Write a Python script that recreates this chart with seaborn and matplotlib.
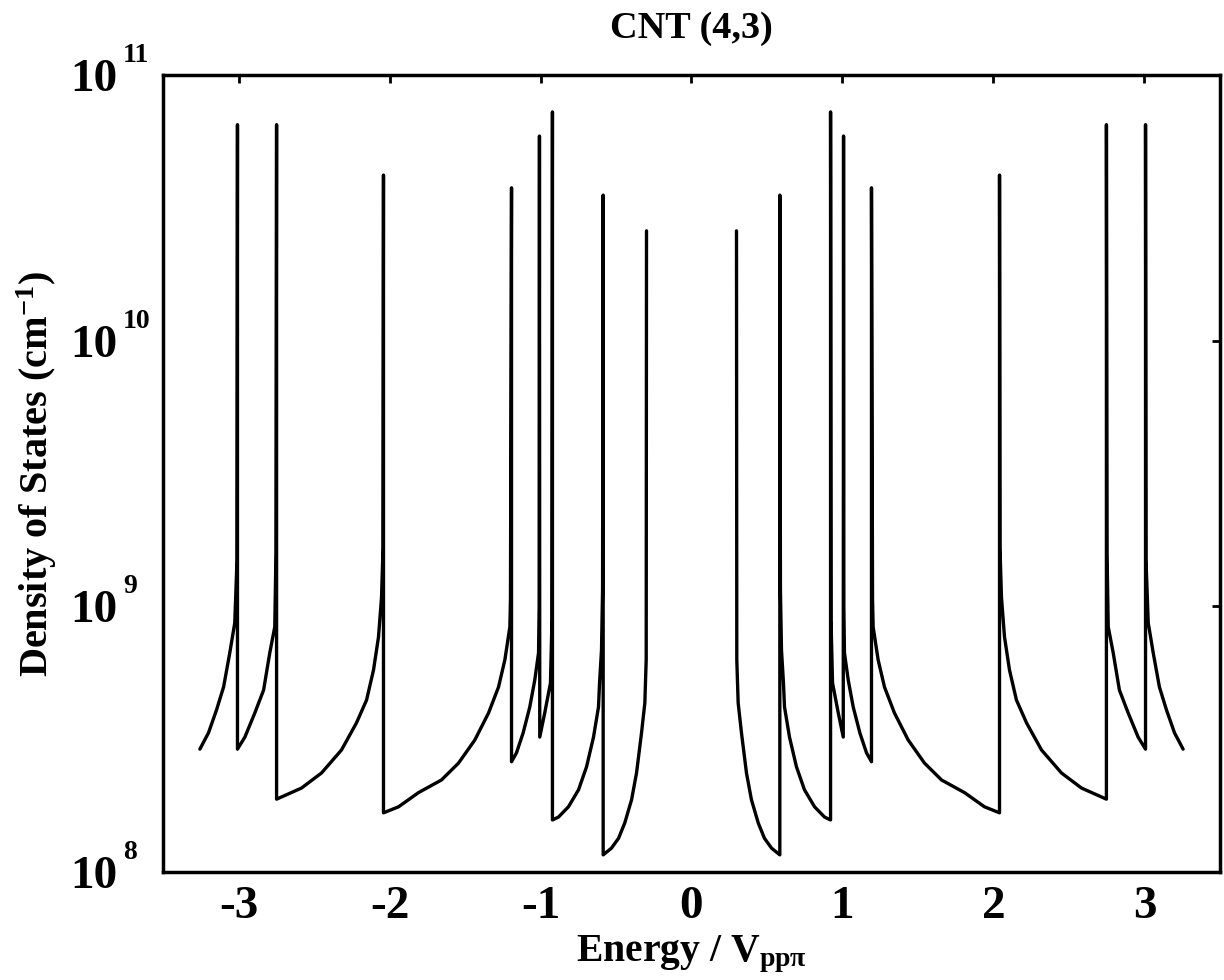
import numpy as np
import pandas as pd
import matplotlib
matplotlib.use('Agg')
import matplotlib.pyplot as plt
import matplotlib.ticker as mticker
import seaborn as sns

# Positive-energy branch of the DOS; the curve is symmetric about E = 0.
# Each van Hove singularity appears as a repeated energy: floor value, then spike top.
energy_pos = [
    0.298, 0.300, 0.309, 0.331, 0.364, 0.397, 0.442, 0.483, 0.530, 0.585,
    0.585, 0.589, 0.596, 0.609, 0.616, 0.649, 0.695, 0.748, 0.815, 0.881, 0.921,
    0.921, 0.924, 0.934, 0.972, 1.005,
    1.007, 1.009, 1.013, 1.038, 1.071, 1.115, 1.159, 1.192,
    1.192, 1.199, 1.203, 1.236, 1.278, 1.344, 1.435, 1.543, 1.656, 1.808, 1.940, 2.040,
    2.040, 2.043, 2.053, 2.073, 2.106, 2.152, 2.219, 2.318, 2.450, 2.583, 2.748,
    2.748, 2.752, 2.760, 2.793, 2.834, 2.892, 2.958, 3.007,
    3.007, 3.010, 3.025, 3.058, 3.099, 3.146, 3.199, 3.256,
]
dos_pos = [
    2.59e10, 6.3e8, 4.33e8, 3.34e8, 2.36e8, 1.87e8, 1.53e8, 1.34e8, 1.23e8, 1.16e8,
    3.53e10, 1.15e9, 6.85e8, 5.15e8, 4.18e8, 3.22e8, 2.49e8, 2.04e8, 1.76e8, 1.61e8, 1.57e8,
    7.26e10, 8.9e8, 5.15e8, 3.97e8, 3.22e8,
    5.89e10, 1.0e9, 6.68e8, 5.28e8, 4.18e8, 3.34e8, 2.81e8, 2.60e8,
    3.76e10, 1.06e9, 8.37e8, 6.29e8, 4.97e8, 3.97e8, 3.14e8, 2.57e8, 2.22e8, 1.99e8, 1.76e8, 1.67e8,
    4.2e10, 1.66e9, 1.08e9, 7.67e8, 5.76e8, 4.44e8, 3.64e8, 2.88e8, 2.36e8, 2.07e8, 1.88e8,
    6.5e10, 1.6e9, 8.37e8, 6.68e8, 4.84e8, 3.97e8, 3.22e8, 2.90e8,
    6.5e10, 1.5e9, 8.66e8, 6.68e8, 4.97e8, 4.07e8, 3.34e8, 2.90e8,
]

x_ticks = [-3, -2, -1, 0, 1, 2, 3]
y_exponents = [8, 9, 10, 11]

# mirror the positive branch to get the negative one
pos = pd.DataFrame({'energy': energy_pos, 'dos': dos_pos, 'branch': 'pos'})
neg = pd.DataFrame({'energy': [-e for e in energy_pos[::-1]],
                    'dos': dos_pos[::-1], 'branch': 'neg'})
df = pd.concat([neg, pos], ignore_index=True)

sns.set_style('white')
plt.rcParams.update({
    'font.family': 'Liberation Serif',
    'font.weight': 'bold',
    'axes.labelweight': 'bold',
    'axes.titleweight': 'bold',
    'axes.unicode_minus': False,
    'mathtext.fontset': 'custom',
    'mathtext.rm': 'Liberation Serif:bold',
    'mathtext.it': 'Liberation Serif:bold',
    'mathtext.bf': 'Liberation Serif:bold',
    'text.color': 'black',
    'axes.labelcolor': 'black',
    'xtick.color': 'black',
    'ytick.color': 'black',
    'axes.edgecolor': 'black',
    'axes.linewidth': 2.5,
    'xtick.direction': 'in',
    'ytick.direction': 'in',
    'xtick.top': True,
    'ytick.right': True,
    'xtick.major.size': 6,
    'ytick.major.size': 6,
    'xtick.major.width': 2,
    'ytick.major.width': 2,
})

fig = plt.figure(figsize=(12.24, 9.8), dpi=100)
ax = fig.add_axes([0.1332, 0.1102, 0.8635, 0.8133])

sns.lineplot(data=df, x='energy', y='dos', units='branch', estimator=None,
             sort=False, color='black', linewidth=2.4, ax=ax)

y_ticks = [10.0 ** e for e in y_exponents]
ax.set_yscale('log')
ax.set_xlim(-3.5, 3.5)
ax.set_ylim(y_ticks[0], y_ticks[-1])
ax.set_xticks(x_ticks)
ax.set_xticklabels([str(t) for t in x_ticks])
ax.set_yticks(y_ticks)
ax.yaxis.set_minor_locator(mticker.NullLocator())
ax.set_yticklabels(['10'] * len(y_ticks))
ax.tick_params(axis='x', labelsize=34, pad=10)
ax.tick_params(axis='y', labelsize=34, pad=33)

# exponents drawn as raised text next to each "10"
for e, v in zip(y_exponents, y_ticks):
    ax.annotate(str(e), xy=(0, v), xycoords=('axes fraction', 'data'),
                xytext=(-40, 13), textcoords='offset pixels',
                fontsize=20, fontweight='bold', ha='left', va='baseline')

ax.set_title('CNT (4,3)', fontsize=27.5, pad=27)
ax.set_xlabel(r'Energy / V$_{\mathdefault{pp\pi}}$', fontsize=28.5, labelpad=4)
ax.set_ylabel(r'Density of States (cm$^{\mathdefault{-1}}$)', fontsize=29, labelpad=8)

fig.savefig('out.png', dpi=100)
